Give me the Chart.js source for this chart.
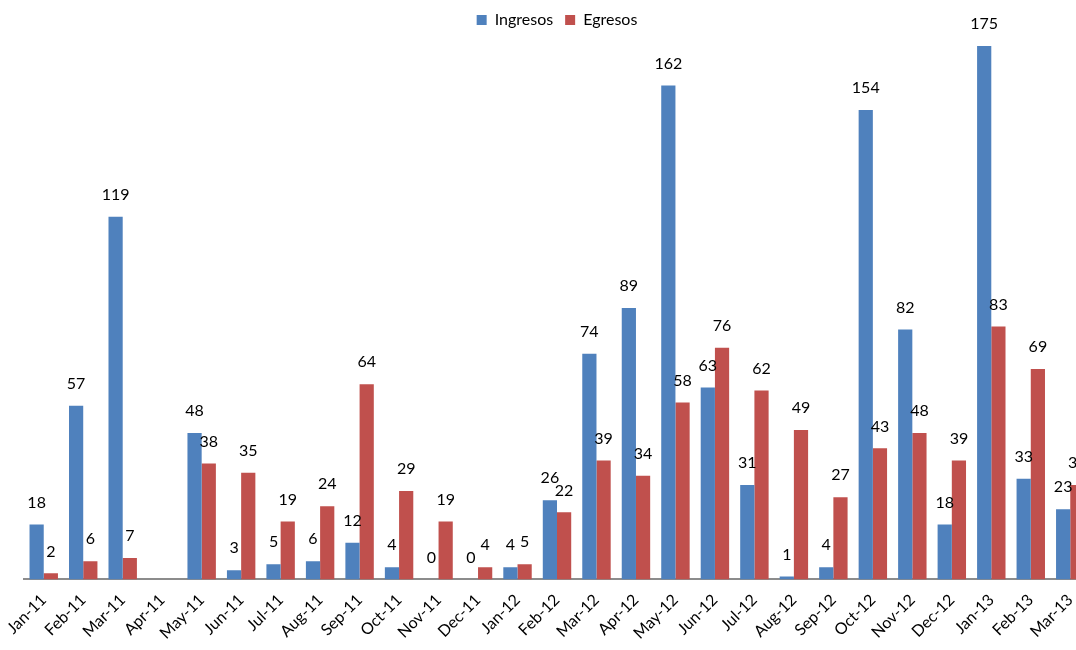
<!DOCTYPE html>
<html>
<head>
<meta charset="utf-8">
<script src="https://cdn.jsdelivr.net/npm/chart.js@4.4.0/dist/chart.umd.min.js"></script>
<style>
  html, body { margin: 0; padding: 0; background: #fff; overflow: hidden; }
  #wrap { position: relative; width: 1090px; height: 650px; }
</style>
</head>
<body>
<div id="wrap"><canvas id="myChartIngresosEgresos"></canvas></div>
<script>
// datos
var meses = ['Jan-11','Feb-11','Mar-11','Apr-11','May-11','Jun-11','Jul-11','Aug-11','Sep-11',
    'Oct-11','Nov-11','Dec-11','Jan-12','Feb-12','Mar-12','Apr-12','May-12','Jun-12','Jul-12',
    'Aug-12','Sep-12','Oct-12','Nov-12','Dec-12','Jan-13','Feb-13','Mar-13'];
var ingresos = [18, 57, 119, null, 48, 3, 5, 6, 12, 4, 0, 0, 4, 26, 74, 89, 162, 63, 31, 1, 4, 154, 82, 18, 175, 33, 23];
var egresos = [2, 6, 7, null, 38, 35, 19, 24, 64, 29, 19, 4, 5, 22, 39, 34, 58, 76, 62, 49, 27, 43, 48, 39, 83, 69, 31];

// etiquetas encima de cada barra
var etiquetas = {
    id: 'etiquetas',
    afterDatasetsDraw: function (chart) {
        var ctx = chart.ctx;
        ctx.save();
        ctx.font = '16px Lato';
        ctx.fillStyle = '#000';
        ctx.textAlign = 'center';
        ctx.textBaseline = 'bottom';
        chart.data.datasets.forEach(function (ds, i) {
            chart.getDatasetMeta(i).data.forEach(function (bar, j) {
                if (ds.data[j] === null) return;
                ctx.fillText(ds.data[j], bar.x, bar.y - 14);
            });
        });
        ctx.restore();
    }
};

var ctx = document.getElementById('myChartIngresosEgresos').getContext('2d');
var mychart = new Chart(ctx, {
    type: 'bar',
    data: {
        labels: meses,
        datasets: [{
            label: 'Ingresos',
            data: ingresos,
            backgroundColor: '#4F81BD'
        }, {
            label: 'Egresos',
            data: egresos,
            backgroundColor: '#C0504D'
        }]
    },
    options: {
        responsive: true,
        maintainAspectRatio: false,
        animation: false,
        layout: { padding: { left: 24, right: 0, top: 0, bottom: 4 } },
        datasets: {
            bar: { categoryPercentage: 0.72, barPercentage: 1.0 }
        },
        plugins: {
            legend: {
                position: 'top',
                labels: {
                    font: { family: 'Lato', size: 16 },
                    color: '#000',
                    boxWidth: 10,
                    boxHeight: 10,
                    padding: 12
                }
            },
            tooltip: { enabled: false }
        },
        scales: {
            x: {
                grid: { display: false },
                border: { display: true, color: '#8c8c8c', width: 2 },
                ticks: {
                    color: '#000',
                    font: { family: 'Lato', size: 16 },
                    maxRotation: 45,
                    minRotation: 45,
                    autoSkip: false
                }
            },
            y: {
                display: false,
                min: 0,
                max: 177.6
            }
        }
    },
    plugins: [etiquetas]
});
</script>
</body>
</html>
